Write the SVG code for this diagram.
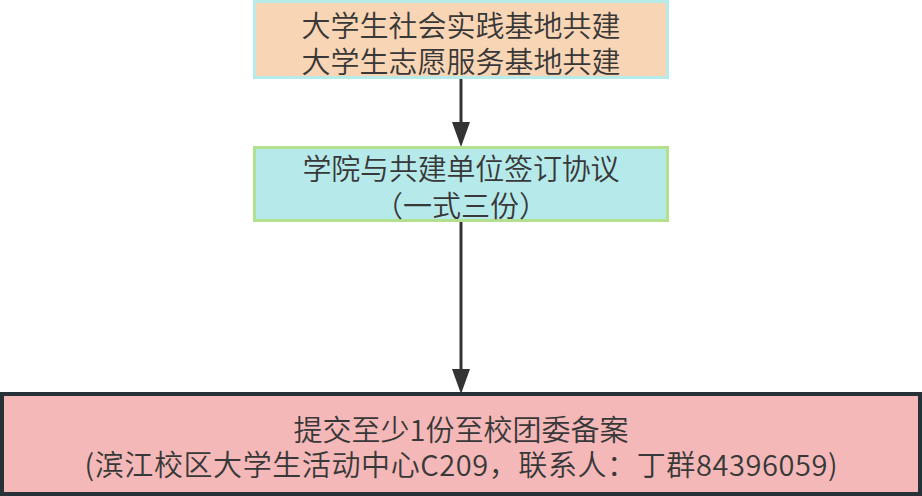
<svg xmlns="http://www.w3.org/2000/svg" width="922" height="496" viewBox="0 0 922 496">
<style>
text{font-family:"Microsoft YaHei","Noto Sans CJK SC","Noto Sans",sans-serif;font-size:29px;font-weight:350;fill:#383838;text-anchor:middle;dominant-baseline:central}
.edge{stroke:#333333;stroke-width:3;fill:none}
.head{fill:#333333}
</style>
<g id="connectors">
<line class="edge" x1="461" y1="79" x2="461" y2="124"/>
<path class="head" d="M452,122 L470,122 L461,147 Z"/>
<line class="edge" x1="461" y1="222" x2="461" y2="371"/>
<path class="head" d="M452,369 L470,369 L461,394 Z"/>
</g>
<g id="node1">
<rect x="254.5" y="1.5" width="413" height="76" fill="#f8d5b4" stroke="#b7ebea" stroke-width="3"/>
<text x="461" y="24">大学生社会实践基地共建</text>
<text x="461" y="60">大学生志愿服务基地共建</text>
</g>
<g id="node2">
<rect x="254.5" y="147.5" width="413" height="73" fill="#b6eaea" stroke="#b2e08e" stroke-width="3"/>
<text x="461" y="167" textLength="317" lengthAdjust="spacing">学院与共建单位签订协议</text>
<text x="461" y="204">（一式三份）</text>
</g>
<g id="node3">
<rect x="2" y="394" width="918" height="100" fill="#f4b8b8" stroke="#263238" stroke-width="4"/>
<text x="461" y="428">提交至少1份至校团委备案</text>
<text x="461" y="463" textLength="753" lengthAdjust="spacing">(滨江校区大学生活动中心C209，联系人：丁群84396059)</text>
</g>
</svg>
